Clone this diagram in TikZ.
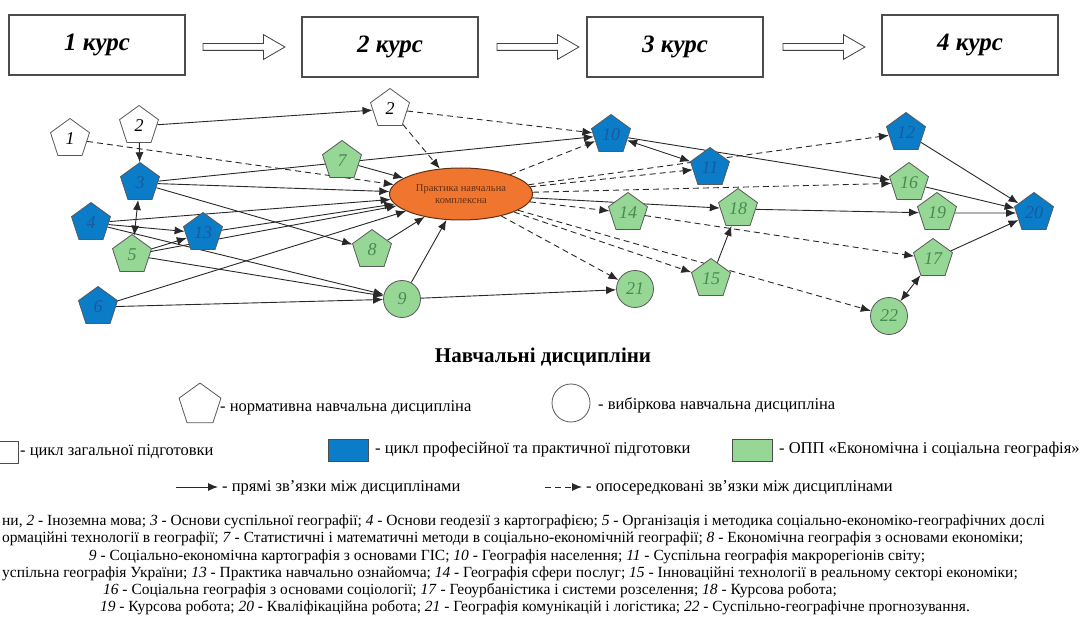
\documentclass[tikz,border=0pt]{standalone}
\usepackage{fontspec}
\setmainfont{Liberation Serif}
\usetikzlibrary{arrows.meta,calc,shapes,backgrounds}
\definecolor{blu}{RGB}{10,124,200}
\definecolor{bluT}{RGB}{25,90,160}
\definecolor{grn}{RGB}{150,215,150}
\definecolor{grnT}{RGB}{70,140,80}
\definecolor{orng}{RGB}{240,118,48}
\definecolor{edg}{RGB}{40,40,40}
\newcommand{\dnum}[1]{\textit{#1}}

\begin{document}
\begin{tikzpicture}[x=1pt,y=-1pt,
 pnt/.style={regular polygon,regular polygon sides=5,minimum size=41pt,inner sep=0pt,draw=black!65,line width=.8pt,font=\fontsize{18}{18}\selectfont\itshape},
 wh/.style={pnt,fill=white},bl/.style={pnt,fill=blu,text=bluT},gr/.style={pnt,fill=grn,text=grnT},
 cir/.style={circle,minimum size=37pt,inner sep=0pt,draw=black!65,line width=.8pt,fill=grn,text=grnT,font=\fontsize{18}{18}\selectfont\itshape},
 kurs/.style={draw=black!70,line width=1.1pt,minimum width=176pt,minimum height=60pt,font=\fontsize{25}{25}\selectfont\bfseries\itshape},
 big/.style={single arrow,draw=black!75,line width=.8pt,minimum height=82pt,single arrow head extend=9pt,inner sep=3pt,single arrow tip angle=60},
 sol/.style={-{Latex[length=10pt,width=8pt]},draw=edg,line width=.9pt},
 dsh/.style={sol,dash pattern=on 6pt off 4pt},
 bi/.style={sol,{Latex[length=10pt,width=8pt]}-{Latex[length=10pt,width=8pt]}},
 lbox/.style={draw=black!70,line width=.8pt,minimum width=40pt,minimum height=22pt,inner sep=0pt},
 lg/.style={font=\fontsize{16.5}{16.5}\selectfont,anchor=west,inner sep=0pt},
 ft/.style={font=\fontsize{15.5}{15.5}\selectfont,inner sep=0pt}]
\useasboundingbox (0,0) rectangle (1088,623);
% courses
\node[kurs](k1)at(97,45){1 курс};\node[kurs](k2)at(390,47){2 курс};\node[kurs](k3)at(675,47){3 курс};\node[kurs](k4)at(970,45){4 курс};
\node[big](a12)at(241,47){};\node[big](a23)at(535,47){};\node[big](a34)at(821,47){};
% disciplines
\node[wh](n1)at(70,139){1};\node[wh](n2)at(139,126){2};\node[wh](n2b)at(390,109){2};
\node[bl](n3)at(140,183){3};\node[bl](n4)at(91,223){4};\node[gr](n5)at(132,255){5};\node[bl](n6)at(98,307){6};
\node[bl](n13)at(203,233){13};\node[gr](n7)at(342,161){7};\node[gr](n8)at(372,250){8};\node[cir](n9)at(402,299){9};
\node[ellipse,minimum width=143pt,minimum height=52pt,fill=orng,draw=black!60!orng,line width=1pt,text=black!60!orng,font=\fontsize{10.5}{11.5}\selectfont,align=center](pr)at(461,194){Практика навчальна\\комплексна};
\node[bl](n10)at(611,135){10};\node[bl](n11)at(710,168){11};\node[gr](n14)at(628,213){14};\node[gr](n15)at(711,279){15};\node[gr](n18)at(738,209){18};\node[cir](n21)at(635,289){21};
\node[bl](n12)at(906,133){12};\node[gr](n16)at(909,183){16};\node[gr](n19)at(937,213){19};\node[gr](n17)at(933,259){17};\node[cir](n22)at(889,316){22};\node[bl](n20)at(1034,213){20};
\begin{scope}[on background layer]
\draw[sol](n2)--(n2b);\draw[sol](n2)--(n3);\draw[sol](n3)--(n10);\draw[sol](n3)--(pr);\draw[sol](n3)--(n8);\draw[bi](n3)--(n5);
\draw[sol](n4)--(n13);\draw[sol](n4)--(pr);\draw[sol](n4)--(n9);\draw[sol](n5)--(n13);\draw[sol](n5)--(pr);\draw[sol](n5)--(n9);
\draw[sol](n13)--(pr);\draw[sol](n6)--(pr);\draw[sol](n6)--(n9);\draw[sol](n7)--(pr);\draw[sol](n8)--(pr);\draw[sol](n9)--(pr);\draw[sol](n9)--(n21);
\draw[sol](pr)--(n18);\draw[bi](n10)--(n11);\draw[sol](n10)--(n16);\draw[sol](n16)--(n20);\draw[sol](n12)--(n20);
\draw[sol](n18)--(n19);\draw[sol](n19)--(n20);\draw[sol](n17)--(n20);\draw[sol](n15)--(n18);\draw[bi](n17)--(n22);
\draw[dsh](n1)--(pr);\draw[dsh](n2b)--(pr);\draw[dsh](n2b)--(n10);\draw[dsh](pr)--(n10);\draw[dsh](pr)--(n11);\draw[dsh](pr)--(n12);
\draw[dsh](pr)--(n16);\draw[dsh](pr)--(n14);\draw[dsh](pr)--(n15);\draw[dsh](pr)--(n21);\draw[dsh](pr)--(n22);\draw[dsh](n14)--(n17);
\end{scope}
% legend
\node[font=\fontsize{21}{21}\selectfont\bfseries](ttl)at(543,357){Навчальні дисципліни};
\node[pnt,minimum size=44pt,fill=white](lp)at(200,405){};\node[lg](lpt)at(220,408){- нормативна навчальна дисципліна};
\node[circle,draw=black!65,line width=.8pt,minimum size=38pt](lc)at(571,403){};\node[lg](lct)at(598,405){- вибіркова навчальна дисципліна};
\node[lbox,fill=white](lw)at(-2,452){};\node[lg](lwt)at(20,452){- цикл загальної підготовки};
\node[lbox,fill=blu](lb)at(348,450){};\node[lg](lbt)at(375,450){- цикл професійної та практичної підготовки};
\node[lbox,fill=grn](lgn)at(752,450){};\node[lg](lgt)at(779,450){- ОПП «Економічна і соціальна географія»};
\coordinate(ls1)at(176,487);\coordinate(ls2)at(218,487);\draw[sol](ls1)--(ls2);\node[lg](lst)at(222,488){- прямі зв’язки між дисциплінами};
\coordinate(ld1)at(545,487);\coordinate(ld2)at(582,487);\draw[dsh](ld1)--(ld2);\node[lg](ldt)at(586,488){- опосередковані зв’язки між дисциплінами};
% list of disciplines
\node[ft,anchor=west](t1)at(2,522){ни, \dnum{2} - Іноземна мова; \dnum{3} - Основи суспільної географії; \dnum{4} - Основи геодезії з картографією; \dnum{5} - Організація і методика соціально-економіко-географічних дослі};
\node[ft,anchor=west](t2)at(2,539){ормаційні технології в географії; \dnum{7} - Статистичні і математичні методи в соціально-економічній географії; \dnum{8} - Економічна географія з основами економіки;};
\node[ft](t3)at(507,557){\dnum{9} - Соціально-економічна картографія з основами ГІС; \dnum{10} - Географія населення; \dnum{11} - Суспільна географія макрорегіонів світу;};
\node[ft,anchor=west](t4)at(2,574){успільна географія України; \dnum{13} - Практика навчально ознайомча; \dnum{14} - Географія сфери послуг; \dnum{15} - Інноваційні технології в реальному секторі економіки;};
\node[ft](t5)at(470,591){\dnum{16} - Соціальна географія з основами соціології; \dnum{17} - Геоурбаністика і системи розселення; \dnum{18} - Курсова робота;};
\node[ft](t6)at(535,608){\dnum{19} - Курсова робота; \dnum{20} - Кваліфікаційна робота; \dnum{21} - Географія комунікацій і логістика; \dnum{22} - Суспільно-географічне прогнозування.};
\end{tikzpicture}
\end{document}
